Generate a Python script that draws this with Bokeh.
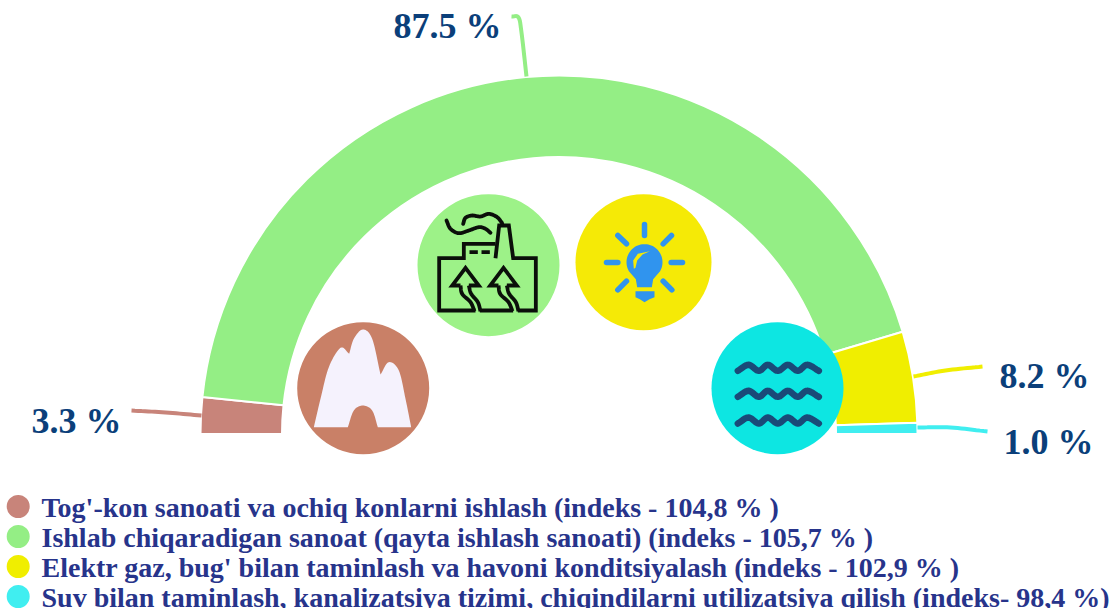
from bokeh.plotting import figure
from bokeh.embed import file_html
from bokeh.resources import INLINE
from bokeh.core.properties import value
from bokeh.models import Range1d
import numpy as np

# ---- data ----
categories = ["Tog'-kon sanoati va ochiq konlarni ishlash (indeks - 104,8 % )",
              "Ishlab chiqaradigan sanoat (qayta ishlash sanoati) (indeks - 105,7 % )",
              "Elektr gaz, bug' bilan taminlash va havoni konditsiyalash (indeks - 102,9 % )",
              "Suv bilan taminlash, kanalizatsiya tizimi, chiqindilarni utilizatsiya qilish (indeks- 98,4 %)"]
shares = [3.3, 87.5, 8.2, 1.0]
labels = ["3.3 %", "87.5 %", "8.2 %", "1.0 %"]
colors = ["#C8847A", "#94EE85", "#F0EE00", "#40EEF0"]

W, H = 1110, 608
p = figure(width=W, height=H, output_backend="svg", toolbar_location=None,
           x_range=Range1d(0, W), y_range=Range1d(0, H), min_border=0,
           outline_line_color=None, margin=(0, 0, 0, 0))
p.axis.visible = False
p.grid.visible = False

def Y(y):
    return H - np.asarray(y, dtype=float)

def spline(pts, n=10):
    pts = np.array(pts, dtype=float)
    q = np.vstack([2*pts[0]-pts[1], pts, 2*pts[-1]-pts[-2]])
    out = []
    for i in range(1, len(q)-2):
        for t in np.linspace(0, 1, n, endpoint=False):
            a, b, c, d = q[i-1], q[i], q[i+1], q[i+2]
            out.append(0.5*((2*b)+(-a+c)*t+(2*a-5*b+4*c-d)*t**2+(-a+3*b-3*c+d)*t**3))
    out.append(pts[-1])
    return np.array(out)

def zoom(pts, ox, oy):
    a = np.array(pts, dtype=float)
    return a[:, 0]/3+ox, a[:, 1]/3+oy

def zline(pts, ox, oy, color, w, cap="round", join="round"):
    x, y = zoom(pts, ox, oy)
    p.line(x, Y(y), line_color=color, line_width=w, line_cap=cap, line_join=join)

def zpatch(pts, ox, oy, color):
    x, y = zoom(pts, ox, oy)
    p.patch(x, Y(y), fill_color=color, line_color=None)

# ---- half donut ----
cx, cy, r0, r1 = 558.5, 433.5, 277.0, 358.5
fr = np.array(shares)/sum(shares)*np.pi
ends = np.pi - np.cumsum(fr)
starts = ends + fr
p.annular_wedge(x=cx, y=H-cy, inner_radius=r0, outer_radius=r1,
                start_angle=ends, end_angle=starts, direction="anticlock",
                fill_color=colors, line_color="white", line_width=2)

# ---- leaders ----
lead_w = 4
def curve(pts, c):
    s = spline(pts)
    p.line(s[:, 0], Y(s[:, 1]), line_color=c, line_width=lead_w, line_cap="butt")
curve([(131, 410), (165, 412), (201, 415)], colors[0])
curve([(511, 16), (518, 17), (521, 32), (526, 76)], colors[1])
curve([(913, 376), (945, 370), (982, 366)], colors[2])
curve([(917, 427), (950, 427), (987, 431)], colors[3])

# ---- value labels ----
lx = [121, 501, 1089, 1093]
ly = [434, 39, 389, 455]
p.text(lx, Y(np.array(ly) - 14), text=labels, text_font=value("Liberation Serif"), text_font_style="bold",
       text_font_size="36px", text_color="#0B3F7A", text_align="right", text_baseline="alphabetic")

# ---- icon circles ----
p.circle([362.7, 488, 643, 777], Y([387.7, 264.7, 261.7, 387.7]), radius=[66, 71, 68, 66],
         fill_color=["#C98067", "#9DF288", "#F5EA06", "#0DE6E2"], line_color=None)

# mountain
m_left = spline([(940, 350), (960, 265), (985, 170), (1020, 112), (1046, 130)])
m_mid = spline([(1046, 130), (1060, 85), (1087, 57), (1115, 85), (1140, 192)])
m_right = spline([(1140, 192), (1165, 155), (1195, 180), (1215, 265), (1232, 350)])
m_arch = spline([(1132, 350), (1115, 300), (1087, 285), (1060, 300), (1042, 350)])
zpatch(np.vstack([m_left, m_mid, m_right, m_arch]), 0, 310, "#F5F2FD")

# factory
K = "#0B0F0A"
LW = 3.8
zline([(225, 390), (116, 390), (116, 233), (190, 233), (190, 190), (285, 190)], 400, 180, K, LW, "butt", "miter")
zline([(285, 233), (296, 135), (325, 135), (338, 233), (406, 233), (406, 390), (352, 390)], 400, 180, K, LW, "butt", "miter")
zline([(238, 390), (338, 390)], 400, 180, K, LW, "butt")
for dx in (0, 114):
    zline([(180+dx, 315), (155+dx, 315), (195+dx, 262), (235+dx, 315), (205+dx, 315)], 400, 180, K, LW, "butt", "miter")
    zline(spline([(180+dx, 315), (185+dx, 340), (210+dx, 365), (222+dx, 392)]), 400, 180, K, LW, "butt")
    zline(spline([(205+dx, 315), (212+dx, 340), (232+dx, 365), (240+dx, 392)]), 400, 180, K, LW, "butt")
zline([(207, 215), (232, 215)], 400, 180, K, LW, "butt")
zline([(243, 215), (268, 215)], 400, 180, K, LW, "butt")
zline(spline([(138, 120), (150, 145), (175, 158), (205, 150), (235, 140), (255, 145), (270, 157)]), 400, 180, K, LW)
zline(spline([(188, 130), (195, 112), (215, 105), (240, 108), (265, 100), (290, 110), (305, 128)]), 400, 180, K, LW)

# bulb
B = "#3094EE"
for a, b in [((732, 132), (732, 165)), ((652, 165), (678, 190)), ((813, 165), (788, 190)),
             ((618, 246), (652, 246)), ((812, 246), (846, 246)), ((678, 302), (652, 328)),
             ((788, 302), (814, 328))]:
    zline([a, b], 400, 180, B, 5.5)
t = np.linspace(np.radians(-30), np.radians(210), 50)
arc = np.column_stack([732+54*np.cos(t), 245-54*np.sin(t)])
zpatch(np.vstack([[(710, 320)], [(706, 296)], arc[::-1], [(758, 296)], [(754, 320)]]), 400, 180, B)
zpatch([(705, 332), (762, 332), (762, 350), (747, 356), (732, 365), (718, 356), (705, 350)], 400, 180, B)
zpatch([(700, 265), (698, 240), (712, 220), (748, 212), (726, 222), (710, 240), (705, 262)], 400, 180, "#F5EA06")

# waves
for wy in (180, 258, 338):
    s = spline([(142, wy+1), (174, wy-17), (205, wy+1), (232, wy-17), (262, wy+1),
                (292, wy-17), (322, wy+1), (350, wy-17), (385, wy+1)])
    zline(s, 690, 310, "#1A4A78", 6.5)

# ---- legend ----
ley = [506, 536, 566, 596]
p.circle([17.7]*4, Y(ley), radius=11.5, fill_color=colors, line_color=None)
p.text([41]*4, Y(np.array([517, 547, 577, 607]) - 10), text=categories, text_font=value("Liberation Serif"),
       text_font_style="bold", text_font_size="28px", text_color="#27348B",
       text_align="left", text_baseline="alphabetic")

open("out.html", "w").write(file_html(p, INLINE))
